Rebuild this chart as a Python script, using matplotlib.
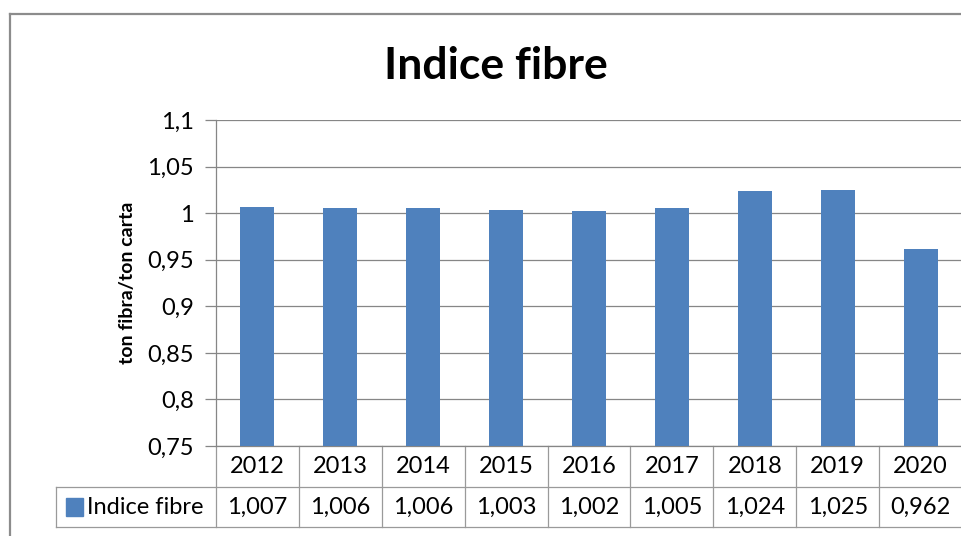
import matplotlib
matplotlib.use("Agg")
import matplotlib.pyplot as plt
from matplotlib.lines import Line2D
from matplotlib.patches import Rectangle

years = ["2012", "2013", "2014", "2015", "2016", "2017", "2018", "2019", "2020"]
indice_fibre = [1.007, 1.006, 1.006, 1.003, 1.002, 1.005, 1.024, 1.025, 0.962]
series_name = "Indice fibre"
y_ticks = [0.75, 0.80, 0.85, 0.90, 0.95, 1.00, 1.05, 1.10]

BAR = "#4F81BD"
GRID = "#868686"
FONT = "Lato"
FS = 17

W, H = 962, 536
fig = plt.figure(figsize=(W / 100, H / 100), dpi=100)
plt.rcParams["font.family"] = [FONT, "DejaVu Sans"]


def fx(px):
    return px / W


def fy(py):
    return 1 - py / H


# outer chart border (only top and left are visible)
fig.add_artist(Line2D([fx(10), fx(962)], [fy(14), fy(14)], color="#8c8c8c", lw=1.6))
fig.add_artist(Line2D([fx(10), fx(10)], [fy(14), fy(536)], color="#8c8c8c", lw=1.6))

left, right, top, bottom = 216, 962, 120, 446
ax = fig.add_axes([fx(left), fy(bottom), fx(right - left), (bottom - top) / H])

x = list(range(len(years)))
ax.bar(x, indice_fibre, width=0.41, color=BAR, zorder=3)
ax.set_xlim(-0.5, len(years) - 0.5)
ax.set_ylim(0.75, 1.10)
ax.set_yticks(y_ticks)
ax.set_yticklabels([f"{v:g}".replace(".", ",") for v in y_ticks], fontsize=FS)
ax.tick_params(axis="y", length=8, width=0.9, color=GRID, pad=8)
ax.set_xticks([])
ax.grid(axis="y", color=GRID, lw=0.9, zorder=0)
for s in ["top", "right"]:
    ax.spines[s].set_visible(False)
ax.spines["left"].set_color(GRID)
ax.spines["bottom"].set_color(GRID)
ax.spines["left"].set_linewidth(0.9)
ax.spines["bottom"].set_linewidth(0.9)

ax.set_ylabel("ton fibra/ton carta", fontsize=14, fontweight="bold", labelpad=8)

fig.text(fx(496), fy(66), "Indice fibre", fontsize=32, fontweight="bold",
         ha="center", va="center")

# data table under the axis (x in data units, y in axes fraction)
tr = ax.get_xaxis_transform()
h = bottom - top
row1 = -41 / h
row2 = -81 / h
leg_left = -0.5 - (left - 56) / ((right - left) / len(years))
lc = "#9a9a9a"
for i in range(len(years) + 1):
    ax.add_line(Line2D([i - 0.5, i - 0.5], [0, row2], transform=tr, color=lc,
                       lw=0.9, clip_on=False))
ax.add_line(Line2D([leg_left, len(years) - 0.5], [row1, row1], transform=tr,
                   color=lc, lw=0.9, clip_on=False))
ax.add_line(Line2D([leg_left, len(years) - 0.5], [row2, row2], transform=tr,
                   color=lc, lw=0.9, clip_on=False))
ax.add_line(Line2D([leg_left, leg_left], [row1, row2], transform=tr, color=lc,
                   lw=0.9, clip_on=False))

for i, (yr, v) in enumerate(zip(years, indice_fibre)):
    ax.text(i, row1 / 2, yr, transform=tr, ha="center", va="center",
            fontsize=FS, clip_on=False)
    ax.text(i, (row1 + row2) / 2, f"{v:.3f}".replace(".", ","), transform=tr,
            ha="center", va="center", fontsize=FS, clip_on=False)

# legend key inside the table
ax.add_patch(Rectangle((leg_left + 0.12, (row1 + row2) / 2 - 0.027), 0.2, 0.054,
                       transform=tr, color=BAR, clip_on=False))
ax.text(leg_left + 0.38, (row1 + row2) / 2, series_name, transform=tr,
        ha="left", va="center", fontsize=FS, clip_on=False)

fig.savefig("out.png", dpi=100)
